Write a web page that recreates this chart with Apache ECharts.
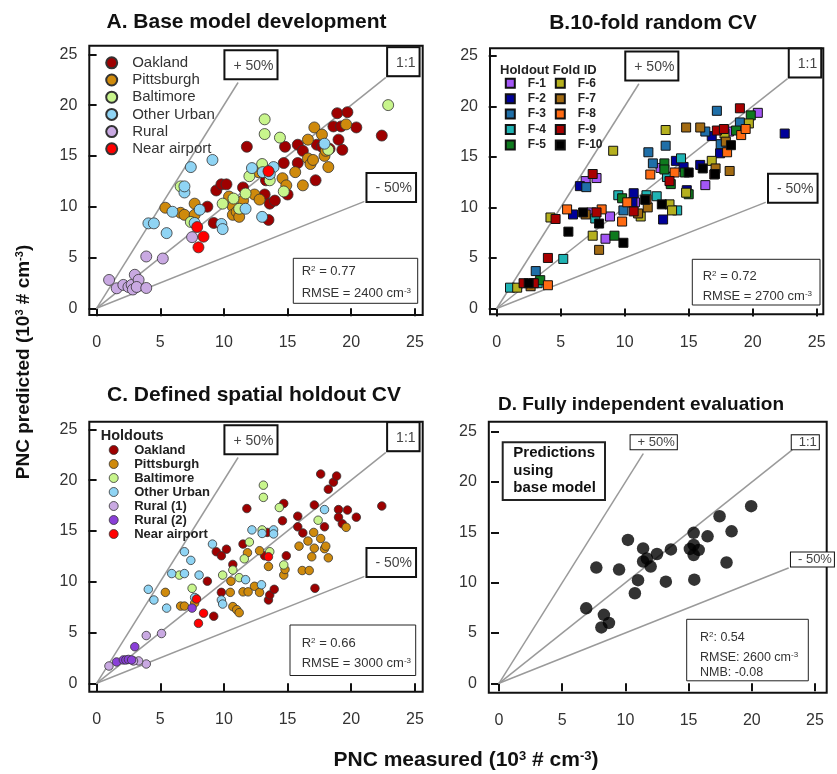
<!DOCTYPE html>
<html><head><meta charset="utf-8">
<script src="https://cdn.jsdelivr.net/npm/echarts@6/dist/echarts.min.js"></script>
<style>html,body{margin:0;padding:0;background:#fff}#c{width:837px;height:774px}</style>
</head><body><div id="c"></div>
<script>
// ---------- data ----------
const tickValues = [0, 5, 10, 15, 20, 25];

// Panel A: base model development
const aOakland = [[8.7,10.0],[9.2,8.4],[9.4,11.6],[9.8,12.2],[10.2,12.2],[11.5,11.9],[11.8,15.9],[13.2,11.2],[13.3,12.6],[13.6,10.3],[14.0,10.6],[13.5,8.7],[14.7,14.3],[14.8,15.9],[15.0,11.2],[15.8,16.1],[15.8,14.3],[16.2,15.5],[17.2,12.6],[17.3,16.1],[17.7,15.9],[18.3,15.7],[18.6,17.9],[18.9,19.2],[19.0,16.6],[19.2,17.9],[19.3,15.6],[19.7,19.3],[20.4,17.8],[22.4,17.0]];
const aPittsburgh = [[5.4,9.9],[6.6,9.4],[6.9,9.2],[7.7,10.3],[7.7,9.2],[10.4,11.0],[10.7,10.0],[10.7,9.2],[11.0,9.5],[11.2,9.0],[11.5,10.6],[12.4,11.2],[12.8,10.7],[12.7,13.4],[14.6,12.8],[14.9,12.1],[15.6,13.4],[16.2,12.1],[16.6,16.6],[16.6,14.75],[16.8,14.2],[17.0,14.6],[17.1,17.8],[17.7,17.1],[17.9,15.0],[18.2,13.9],[18.0,15.5],[19.6,18.1]];
const aBaltimore = [[6.6,12.0],[7.4,8.5],[9.9,10.3],[10.75,10.8],[11.2,9.8],[11.7,11.3],[12.0,13.0],[13.0,14.2],[13.2,18.6],[13.2,17.15],[14.4,16.8],[13.6,12.6],[14.7,11.5],[18.2,15.6],[22.9,20.0]];
const aOtherUrban = [[4.07,8.36],[4.5,8.36],[5.5,7.4],[5.96,9.5],[6.9,11.4],[6.9,12.0],[7.4,13.9],[9.1,14.6],[7.7,8.4],[8.1,9.7],[9.8,8.3],[9.9,7.8],[11.7,9.8],[12.2,13.8],[13.0,9.0],[13.05,13.4],[13.9,13.9],[13.6,13.2],[17.9,16.2]];
const aRural = [[0.98,2.79],[1.58,1.97],[2.1,2.3],[2.5,2.1],[2.75,2.3],[3.0,3.3],[3.3,2.8],[2.85,1.85],[3.15,2.1],[3.9,2.0],[3.9,5.1],[5.2,4.9],[7.5,7.0]];
const aNearAirport = [[7.9,8.0],[8.4,7.05],[8.0,6.0],[13.5,13.5]];

// Panel B: 10-fold random CV
const bF1 = [[6.95,12.6],[7.8,12.9],[7.4,9.5],[8.85,9.1],[8.5,6.9],[10.8,10.5],[12.8,13.9],[16.3,12.2],[18.15,17.5],[20.4,19.35]];
const bF2 = [[5.96,9.3],[6.5,12.1],[10.7,11.4],[10.6,10.5],[13.0,8.8],[14.0,14.6],[14.6,14.0],[14.85,11.7],[15.9,14.2],[16.8,17.05],[17.45,15.35],[22.5,17.3]];
const bF3 = [[3.05,3.7],[7.0,12.0],[9.9,9.7],[11.85,15.45],[12.2,14.35],[13.2,16.1],[16.3,17.5],[17.2,19.55],[17.5,16.25],[19.0,18.4]];
const bF4 = [[1.04,2.06],[3.2,2.5],[5.2,4.9],[7.7,8.9],[9.5,11.2],[11.7,11.2],[12.5,11.1],[13.3,13.0],[14.1,9.7],[14.4,14.85]];
const bF5 = [[3.4,2.8],[9.2,7.2],[9.8,10.9],[13.1,14.35],[13.1,13.75],[13.6,12.3],[14.7,13.45],[15.0,11.3],[18.7,17.6],[19.85,19.1]];
const bF6 = [[1.6,2.06],[4.2,9.0],[7.5,7.2],[9.1,15.6],[11.25,9.1],[13.2,17.65],[13.5,10.3],[13.7,9.7],[14.8,11.45],[16.8,14.6],[17.8,17.3],[19.7,18.3]];
const bF7 = [[2.65,2.2],[6.95,9.3],[8.0,5.8],[11.05,9.4],[11.8,10.0],[14.8,17.9],[15.9,17.9],[17.1,13.85],[17.9,16.5],[18.2,13.6]];
const bF8 = [[4.0,2.3],[5.5,9.8],[8.2,9.8],[9.8,8.6],[10.2,10.5],[11.7,10.8],[12.0,13.25],[13.9,13.45],[18.0,15.45],[19.1,17.15],[19.45,17.75]];
const bF9 = [[2.1,2.5],[2.9,2.5],[4.0,5.0],[4.6,8.85],[7.5,13.3],[7.8,9.5],[10.7,9.6],[13.5,12.6],[17.0,13.25],[17.2,17.6],[17.75,17.75],[19.0,19.8]];
const bF10 = [[2.5,2.5],[5.6,7.6],[6.75,9.5],[8.0,8.4],[9.9,6.5],[11.6,10.75],[12.9,10.3],[15.0,13.45],[16.1,13.85],[17.05,13.3],[18.3,16.15]];

// Panel C: defined spatial holdout CV
const cOakland = [[8.7,10.05],[9.2,6.6],[9.4,12.95],[9.8,12.55],[10.2,13.2],[9.8,8.95],[10.7,11.7],[11.5,13.7],[11.8,17.2],[13.2,12.55],[13.4,14.85],[13.5,8.2],[13.6,8.7],[13.95,9.25],[14.6,16.0],[14.7,17.7],[14.9,12.55],[15.8,16.45],[15.8,15.4],[16.2,14.8],[17.15,9.35],[17.1,17.55],[17.6,20.6],[17.9,15.4],[18.2,19.1],[18.6,19.8],[18.85,20.4],[19.0,17.1],[19.0,16.35],[19.3,15.7],[19.7,17.05],[20.4,16.35],[22.4,17.45]];
const cPittsburgh = [[5.4,8.95],[6.6,7.6],[6.9,7.6],[7.7,7.9],[7.8,8.35],[10.55,10.05],[10.5,8.95],[10.7,7.55],[11.0,7.25],[11.2,6.95],[11.5,9.0],[11.85,12.85],[11.9,9.0],[12.4,9.55],[12.8,13.05],[12.8,8.95],[13.5,11.5],[14.7,10.65],[14.8,11.2],[15.9,13.5],[16.15,11.1],[16.7,11.1],[16.6,14.0],[16.9,12.45],[17.05,14.85],[17.6,14.25],[17.9,13.25],[18.0,13.5],[18.2,12.35],[17.1,13.3],[19.6,15.35]];
const cBaltimore = [[6.5,10.65],[7.5,9.35],[9.9,10.65],[10.7,11.15],[11.2,10.4],[11.6,12.25],[12.0,13.9],[13.1,19.5],[13.1,18.3],[13.0,15.1],[13.6,12.95],[14.35,17.3],[14.7,11.65],[17.4,16.05]];
const cOtherUrban = [[4.06,9.25],[4.5,8.2],[5.5,7.4],[5.9,10.8],[6.9,10.8],[6.9,12.95],[7.4,12.1],[8.05,10.65],[9.1,13.7],[7.7,8.45],[9.8,8.2],[9.9,7.8],[11.7,10.2],[12.2,15.1],[12.95,9.7],[13.0,14.75],[13.9,15.1],[13.9,14.7],[17.9,17.1]];
const cRural1 = [[0.97,1.7],[3.9,1.9],[3.3,2.2],[2.9,2.2],[3.9,4.7],[5.1,4.9]];
const cRural2 = [[1.57,2.1],[2.1,2.3],[2.3,2.3],[2.5,2.35],[2.75,2.3],[3.0,3.6],[7.5,7.4]];
const cNearAirport = [[7.85,8.3],[8.4,6.9],[8.0,5.9],[13.5,12.45]];

// Panel D: fully independent evaluation
const dPredictions = [[6.9,7.45],[7.7,11.5],[8.3,6.8],[8.1,5.55],[8.7,6.0],[9.5,11.3],[10.2,14.25],[10.75,8.95],[11.0,10.25],[11.4,13.4],[11.4,12.1],[11.7,12.4],[12.0,11.6],[12.5,12.85],[13.2,10.1],[13.6,13.3],[15.1,13.35],[15.4,13.75],[15.4,14.95],[15.4,12.75],[15.8,13.25],[15.45,10.3],[16.5,14.6],[17.45,16.6],[18.4,15.1],[18.0,12.0],[19.95,17.6]];

// reference lines (1:1, +50%, -50%) end points
const plusLine = [[0,0],[11.1,22.2]];
const oneLine = [[0,0],[22.7,22.7]];
const minusLine = [[0,0],[21.0,10.5]];
const plusLineD = [[0,0],[11.4,22.8]];
const oneLineD = [[0,0],[23.2,23.2]];
const minusLineD = [[0,0],[22.9,11.45]];

const siteNamesA = ['Oakland','Pittsburgh','Baltimore','Other Urban','Rural','Near airport'];
const siteNamesC = ['Oakland','Pittsburgh','Baltimore','Other Urban','Rural (1)','Rural (2)','Near airport'];
const foldNames = ['F-1','F-2','F-3','F-4','F-5','F-6','F-7','F-8','F-9','F-10'];

// ---------- styles ----------
const FONT = '"Liberation Sans", Arial, Helvetica, sans-serif';
const siteColors = {'Oakland':'#9e0000','Pittsburgh':'#cf8a0c','Baltimore':'#c8f58c','Other Urban':'#8fd4f4','Rural':'#c9a9e2','Rural (1)':'#c9a9e2','Rural (2)':'#8a3fd8','Near airport':'#ff0000'};
const foldColors = ['#a356f5','#000099','#1f6fa8','#1fb3b3','#0e7a1e','#b5b01e','#a36b12','#ff6a12','#a80000','#000000'];

// plotting area (0..25 data range) and surrounding frame boxes, in pixels
const grids = [
  {left:96.6, top:54.3, width:318.3, height:254},
  {left:496.7, top:55.7, width:320, height:252.8},
  {left:96.6, top:429.3, width:318.3, height:254},
  {left:499, top:431.7, width:316, height:251.6}
];
const frames = [[89.3,45.7,333.4,269.3],[490,48.3,333.3,266],[89.3,421.7,333.4,270],[488.8,421.7,337.9,271]];
const xOffsets = [6.7, 5.8, 8.4, 9.4];
const yOffsets = [7.3, 6.7, 7.3, 10.2];

const option = {animation:false, backgroundColor:'#fff', grid:[], xAxis:[], yAxis:[], series:[], legend:[], graphic:[]};
const G = option.graphic;

grids.forEach((g,i)=>{
  option.grid.push(Object.assign({show:false}, g));
  const f = frames[i];
  G.push({type:'rect', silent:true, z:1, shape:{x:f[0], y:f[1], width:f[2], height:f[3]}, style:{fill:null, stroke:'#111', lineWidth:2}});
  const common = {
    type:'value', gridIndex:i, min:0, max:25, interval:5, splitLine:{show:false},
    axisLine:{show:false},
    axisTick:{show:true, inside:false, length:8, lineStyle:{color:'#111', width:2}},
    axisLabel:{fontSize:16, color:'#333', fontFamily:FONT}
  };
  option.xAxis.push(Object.assign({}, common, {offset:xOffsets[i], axisLabel:Object.assign({}, common.axisLabel, {margin:20})}));
  option.yAxis.push(Object.assign({}, common, {offset:yOffsets[i], axisLabel:Object.assign({}, common.axisLabel, {margin:12})}));
});

function refSeries(i, data, text, pos, thin){
  const last = data[data.length-1];
  const lbl = thin ? {fontSize:13, lineHeight:14, padding:[0,2,0,7], borderWidth:1} : {fontSize:14, lineHeight:15, padding:[7,3,5,8], borderWidth:2};
  return {
    type:'line', xAxisIndex:i, yAxisIndex:i, silent:true, z:2, clip:false,
    symbol:'circle', symbolSize:1, showSymbol:true,
    lineStyle:{color:'#9a9a9a', width:1.5}, itemStyle:{color:'#9a9a9a'},
    label:{show:false},
    data:[data[0], {value:last, label:Object.assign({show:true, formatter:text, position:pos, align:'left', verticalAlign:'bottom',
      color:'#444', fontFamily:FONT, backgroundColor:'#fff', borderColor:'#111'}, lbl)}]
  };
}
[0,1,2].forEach(i=>{
  option.series.push(refSeries(i, plusLine, '+ 50%', [-12,-4]));
  option.series.push(refSeries(i, oneLine, '1:1', [3,-2]));
  option.series.push(refSeries(i, minusLine, '- 50%', [4,0]));
});
option.series.push(refSeries(3, plusLineD, '+ 50%', [-12,-4], true));
option.series.push(refSeries(3, oneLineD, '1:1', [0,0], true));
option.series.push(refSeries(3, minusLineD, '- 50%', [3,-1], true));

function scat(i, name, data, color, size, symbol){
  return {type:'scatter', name, xAxisIndex:i, yAxisIndex:i, data, symbol:symbol||'circle', symbolSize:size, z:3, clip:false,
    itemStyle:{color, borderColor: symbol==='rect' ? '#111' : '#333', borderWidth: symbol==='rect' ? 1 : 0.8, opacity:1}};
}
const aSets = [aOakland,aPittsburgh,aBaltimore,aOtherUrban,aRural,aNearAirport];
siteNamesA.forEach((n,k)=>option.series.push(scat(0, n, aSets[k], siteColors[n], 11)));
const bSets = [bF1,bF2,bF3,bF4,bF5,bF6,bF7,bF8,bF9,bF10];
foldNames.forEach((n,k)=>option.series.push(scat(1, n, bSets[k], foldColors[k], 9, 'rect')));
const cSets = [cOakland,cPittsburgh,cBaltimore,cOtherUrban,cRural1,cRural2,cNearAirport];
siteNamesC.forEach((n,k)=>option.series.push(scat(2, n, cSets[k], siteColors[n], 8.5)));
option.series.push({type:'scatter', name:'Predictions', xAxisIndex:3, yAxisIndex:3, data:dPredictions, symbolSize:12.5, z:3, itemStyle:{color:'#000'}});

// legends
option.legend.push({orient:'vertical', left:105.2, top:55.3, padding:0, itemWidth:11, itemHeight:11, itemGap:2.2, selectedMode:false,
  icon:'circle', data:siteNamesA, textStyle:{fontSize:15, color:'#333', fontFamily:FONT, padding:[0,0,0,10]}});
option.legend.push({orient:'vertical', left:504.8, top:77.3, padding:0, itemWidth:9, itemHeight:9, itemGap:3.4, selectedMode:false,
  icon:'rect', data:foldNames.slice(0,5), textStyle:{fontSize:12, fontWeight:'bold', color:'#222', fontFamily:FONT, padding:[0,0,0,8]}});
option.legend.push({orient:'vertical', left:554.8, top:77.3, padding:0, itemWidth:9, itemHeight:9, itemGap:3.4, selectedMode:false,
  icon:'rect', data:foldNames.slice(5), textStyle:{fontSize:12, fontWeight:'bold', color:'#222', fontFamily:FONT, padding:[0,0,0,8]}});
option.legend.push({orient:'vertical', left:108.8, top:443.5, padding:0, itemWidth:9, itemHeight:9, itemGap:1, selectedMode:false,
  icon:'circle', data:siteNamesC.map(n=>({name:n, itemStyle:{color:siteColors[n], borderColor:'#333', borderWidth:0.8}})),
  textStyle:{fontSize:13, fontWeight:'bold', color:'#222', fontFamily:FONT, padding:[0,0,0,11]}});

// annotations
function txt(x,y,text,fs,opts){
  G.push({type:'text', x, y, silent:true, z:10,
    style:Object.assign({text, fontSize:fs, fontFamily:FONT, fill:'#111', align:'left', verticalAlign:'middle'}, (opts&&opts.style)||{})});
}
function box(x,y,w,h,lw){ G.push({type:'rect', silent:true, z:9, shape:{x,y,width:w,height:h}, style:{fill:'#fff', stroke:'#222', lineWidth:lw}}); }
const bold = {fontWeight:'bold', align:'center'};
txt(246.5, 22, 'A. Base model development', 21, {style:bold});
txt(653, 23, 'B.10-fold random CV', 21, {style:bold});
txt(254, 395, 'C. Defined spatial holdout CV', 21, {style:bold});
txt(641, 405, 'D. Fully independent evaluation', 19, {style:bold});
txt(500, 70, 'Holdout Fold ID', 13, {style:{fontWeight:'bold', fill:'#222'}});
txt(100.7, 436, 'Holdouts', 14.5, {style:{fontWeight:'bold', fill:'#222'}});

function stat(x,y,text,fs){
  const r = {n:{fontSize:fs, fontFamily:FONT, fill:'#333'}, s:{fontSize:8, fontFamily:FONT, fill:'#333', verticalAlign:'top'}};
  G.push({type:'text', x, y, silent:true, z:11, style:{text, rich:r, fontSize:fs, fontFamily:FONT, fill:'#333', align:'left', verticalAlign:'middle'}});
}
box(293.3, 258.3, 124.4, 45, 1);
stat(301.7, 271, '{n|R}{s|2}{n| = 0.77}', 13);
stat(301.7, 293, '{n|RMSE = 2400 cm}{s|-3}', 13);
box(692.3, 259.3, 127.7, 45.7, 1);
stat(702.7, 276, '{n|R}{s|2}{n| = 0.72}', 13);
stat(702.7, 296, '{n|RMSE = 2700 cm}{s|-3}', 13);
box(290, 625, 125.7, 50.5, 1);
stat(301.7, 643.3, '{n|R}{s|2}{n| = 0.66}', 13);
stat(301.7, 663.3, '{n|RMSE = 3000 cm}{s|-3}', 13);
box(686.7, 619.3, 121.6, 61.5, 1);
stat(700, 637.3, '{n|R}{s|2}{n|: 0.54}', 12.5);
stat(700, 657.3, '{n|RMSE: 2600 cm}{s|-3}', 12.5);
stat(700, 672.7, '{n|NMB: -0.08}', 12.5);

box(502.7, 442.3, 102.3, 57.7, 2);
txt(513.3, 452.7, 'Predictions', 15, {style:{fontWeight:'bold'}});
txt(513.3, 470.7, 'using', 15, {style:{fontWeight:'bold'}});
txt(513.3, 488.3, 'base model', 15, {style:{fontWeight:'bold'}});

// axis titles
function titleRich(fs){ return {b:{fontSize:fs, fontWeight:'bold', fontFamily:FONT, fill:'#111'}, s:{fontSize:Math.round(fs*0.6), fontWeight:'bold', fontFamily:FONT, fill:'#111', verticalAlign:'top'}}; }
G.push({type:'text', x:466, y:760, silent:true, z:10, style:{text:'{b|PNC measured (10}{s|3}{b| # cm}{s|-3}{b|)}', rich:titleRich(21), align:'center', verticalAlign:'middle', fontSize:21, fontFamily:FONT}});
G.push({type:'text', x:24, y:362, rotation:Math.PI/2, silent:true, z:10, style:{text:'{b|PNC predicted (10}{s|3}{b| # cm}{s|-3}{b|)}', rich:titleRich(19), align:'center', verticalAlign:'middle', fontSize:19, fontFamily:FONT}});

const chart = echarts.init(document.getElementById('c'), null, {renderer:'canvas'});
chart.setOption(option);
</script></body></html>
